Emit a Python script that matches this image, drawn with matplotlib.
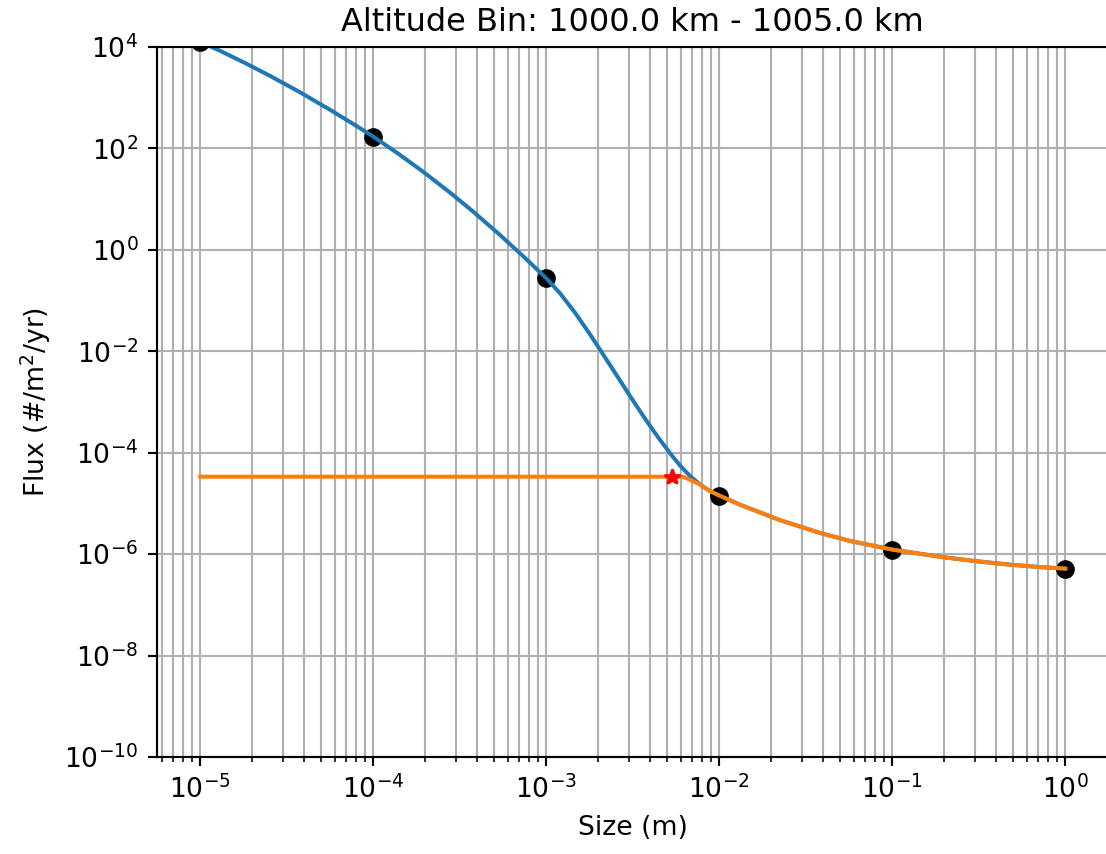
import numpy as np
import matplotlib
matplotlib.use("Agg")
import matplotlib.pyplot as plt
from matplotlib.ticker import FixedLocator, NullLocator

# Model fluxes at the tabulated debris sizes
sizes = [1e-5, 1e-4, 1e-3, 1e-2, 1e-1, 1.0]
fluxes = [1.272e4, 171.1, 0.2761, 1.433e-5, 1.229e-6, 5.187e-7]

# Fitted flux curve (size in m, flux in #/m^2/yr)
curve_size = [1.0e-5, 1.305e-5, 1.820e-5, 2.539e-5, 3.785e-5, 5.642e-5, 7.871e-5,
              1.0e-4, 1.395e-4, 1.945e-4, 2.787e-4, 3.785e-4, 5.421e-4, 7.364e-4,
              1.0e-3, 1.205e-3, 1.471e-3, 1.796e-3, 2.344e-3, 3.059e-3, 3.735e-3,
              4.441e-3, 5.209e-3, 5.950e-3, 6.797e-3, 7.765e-3, 8.871e-3,
              1.0e-2, 1.3225e-2, 2.252e-2, 3.836e-2, 5.718e-2,
              1.0e-1, 0.1972, 0.3019, 0.4809, 0.7170, 1.0]
curve_flux = [1.272e4, 8378.0, 4814.0, 2680.0, 1273.0, 575.1, 287.1,
              171.1, 78.72, 34.60, 13.34, 5.654, 1.945, 0.7464,
              0.2761, 0.1373, 0.05687, 0.02124, 5.268e-3, 1.2895e-3, 4.621e-4,
              1.995e-4, 9.648e-5, 5.519e-5, 3.442e-5, 2.351e-5, 1.742e-5,
              1.433e-5, 9.395e-6, 4.669e-6, 2.611e-6, 1.816e-6,
              1.229e-6, 8.703e-7, 7.290e-7, 6.191e-7, 5.552e-7, 5.187e-7]

# Flux curve capped at the cap point
capped_size = [1.0e-5, 5.33e-3, 6.193e-3, 7.765e-3, 8.871e-3,
               1.0e-2, 1.3225e-2, 2.252e-2, 3.836e-2, 5.718e-2,
               1.0e-1, 0.1972, 0.3019, 0.4809, 0.7170, 1.0]
capped_flux = [3.365e-5, 3.365e-5, 3.365e-5, 2.351e-5, 1.742e-5,
               1.433e-5, 9.395e-6, 4.669e-6, 2.611e-6, 1.816e-6,
               1.229e-6, 8.703e-7, 7.290e-7, 6.191e-7, 5.552e-7, 5.187e-7]

# Cap point
cap_size = [5.33e-3]
cap_flux = [3.365e-5]

dpi = 192
fig = plt.figure(figsize=(1106 / dpi, 854 / dpi), dpi=dpi)
ax = fig.add_axes([157 / 1106, 97 / 854, 951.5 / 1106, 710 / 854])

ax.plot(sizes, fluxes, "ko")
ax.plot(curve_size, curve_flux, color="#1f77b4")
ax.plot(capped_size, capped_flux, color="#ff7f0e")
ax.plot(cap_size, cap_flux, "r*")

ax.set_xscale("log")
ax.set_yscale("log")
ax.set_ylim(1e-10, 1e4)
ax.yaxis.set_major_locator(FixedLocator(10.0 ** np.arange(-10, 5, 2)))
ax.yaxis.set_minor_locator(NullLocator())
ax.grid(True, which="both")

ax.set_xlabel("Size (m)")
ax.set_ylabel("Flux (#/m$^2$/yr)")
ax.set_title("Altitude Bin: 1000.0 km - 1005.0 km")

fig.savefig("out.png", dpi=dpi)
